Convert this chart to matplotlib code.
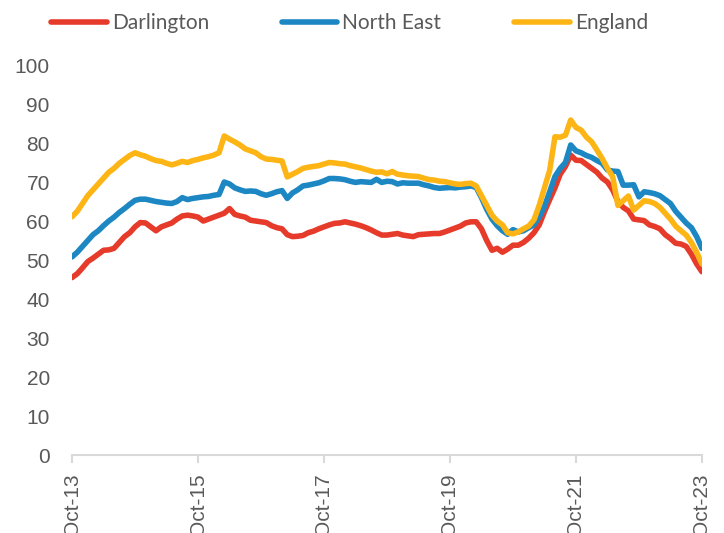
import matplotlib.pyplot as plt
import numpy as np

# monthly values, Oct-13 .. Oct-23 (121 months)
darlington = [
    45.5, 46.5, 48.0, 49.6, 50.5, 51.5, 52.5, 52.6, 53.0, 54.5, 56.0, 57.0,
    58.5, 59.6, 59.5, 58.5, 57.5, 58.5, 59.0, 59.5, 60.5, 61.3, 61.5, 61.3,
    61.0, 60.0, 60.5, 61.0, 61.5, 62.0, 63.2, 61.7, 61.3, 61.0, 60.2, 60.0,
    59.8, 59.6, 58.8, 58.3, 58.0, 56.5, 56.0, 56.1, 56.3, 57.0, 57.4, 58.0,
    58.5, 59.0, 59.4, 59.5, 59.8, 59.5, 59.2, 58.8, 58.3, 57.7, 57.0, 56.4,
    56.4, 56.6, 56.8, 56.4, 56.2, 56.0, 56.5, 56.6, 56.7, 56.8, 56.8, 57.2,
    57.7, 58.2, 58.7, 59.5, 59.8, 59.8, 58.0, 55.0, 52.5, 53.0, 52.0, 52.8,
    53.8, 53.8, 54.5, 55.6, 57.0, 59.0, 62.4, 65.5, 68.5, 72.0, 74.0, 76.9,
    75.6, 75.5, 74.5, 73.5, 72.5, 71.0, 70.0, 68.0, 65.0, 63.5, 62.6, 60.5,
    60.3, 60.1, 59.0, 58.6, 58.0, 56.5, 55.5, 54.3, 54.1, 53.5, 51.5, 49.0,
    47.0,
]
north_east = [
    50.8, 52.0, 53.5, 55.0, 56.5, 57.5, 58.8, 60.0, 61.0, 62.2, 63.2, 64.3,
    65.3, 65.6, 65.6, 65.3, 65.0, 64.8, 64.6, 64.5, 65.0, 66.0, 65.5, 65.8,
    66.0, 66.2, 66.3, 66.6, 66.8, 70.0, 69.5, 68.5, 68.0, 67.6, 67.7, 67.6,
    67.0, 66.6, 67.0, 67.5, 67.8, 65.8, 67.2, 68.0, 69.0, 69.2, 69.5, 69.8,
    70.3, 70.9, 70.9, 70.8, 70.6, 70.2, 69.9, 70.1, 70.0, 69.9, 70.7, 69.9,
    70.2, 70.1, 69.5, 69.8, 69.7, 69.7, 69.7, 69.3, 69.0, 68.6, 68.4, 68.5,
    68.6, 68.5, 68.7, 68.8, 69.0, 68.6, 66.0, 63.0, 60.5, 58.8, 57.5, 56.6,
    57.8, 57.2, 57.5, 58.3, 59.0, 61.0, 63.7, 67.5, 71.4, 73.5, 75.0, 79.5,
    78.0, 77.5, 76.8, 76.3, 75.5, 74.8, 73.1, 72.8, 72.7, 69.2, 69.2, 69.3,
    66.2, 67.5, 67.3, 67.0, 66.5, 65.5, 64.5, 62.5, 61.0, 59.5, 58.3, 56.0,
    53.0,
]
england = [
    61.1, 62.5, 64.5, 66.5, 68.0, 69.5, 71.0, 72.5, 73.5, 74.8, 75.8, 76.8,
    77.5, 77.0, 76.6, 76.0, 75.5, 75.3, 74.8, 74.4, 74.8, 75.3, 75.0, 75.5,
    75.8, 76.2, 76.5, 76.9, 77.5, 81.8, 81.0, 80.3, 79.5, 78.5, 78.0, 77.5,
    76.5, 75.9, 75.8, 75.6, 75.4, 71.3, 72.0, 72.7, 73.5, 73.8, 74.0, 74.2,
    74.6, 75.0, 74.9, 74.7, 74.6, 74.2, 73.9, 73.6, 73.2, 72.8, 72.5, 72.6,
    72.1, 72.7, 72.0, 71.8, 71.6, 71.5, 71.4, 71.0, 70.6, 70.5, 70.2, 70.1,
    69.8, 69.5, 69.4, 69.6, 69.7, 69.0, 66.5, 64.0, 61.5, 60.0, 59.0, 57.0,
    56.7, 57.2, 58.0, 58.7, 60.3, 64.0, 68.5, 73.0, 81.6, 81.5, 82.0, 85.9,
    84.0, 83.3, 81.5, 80.3, 78.2, 76.0, 73.5, 71.4, 64.0, 65.2, 66.4, 62.8,
    64.0, 65.2, 65.0, 64.5, 63.5, 62.0, 60.5, 58.7, 57.5, 56.4, 54.5, 52.0,
    49.0,
]
tick_labels = ['Oct-13', 'Oct-15', 'Oct-17', 'Oct-19', 'Oct-21', 'Oct-23']

months = np.arange(len(darlington))

fig = plt.figure(figsize=(7.24, 5.33), dpi=100)
ax = fig.add_axes([0.0995, 0.1463, 0.870, 0.7317])

lw = 4.0
ax.plot(months, darlington, color='#E63B2A', lw=lw, label='Darlington', solid_capstyle='round')
ax.plot(months, north_east, color='#1C87C2', lw=lw, label='North East', solid_capstyle='round')
ax.plot(months, england, color='#FDB515', lw=lw, label='England', solid_capstyle='round')

ax.set_xlim(0, 120)
ax.set_ylim(0, 100)
ax.set_yticks(range(0, 101, 10))
ax.set_xticks(range(0, 121, 24))
ax.set_xticklabels(tick_labels, rotation=90, va='top', ha='center')

for s in ['top', 'right', 'left']:
    ax.spines[s].set_visible(False)
ax.spines['bottom'].set_color('#d9d9d9')
ax.spines['bottom'].set_linewidth(1.5)

ax.tick_params(axis='y', length=0, pad=16, labelsize=15, labelcolor='#595959')
ax.tick_params(axis='x', length=6, width=1.5, color='#d9d9d9', pad=7,
               labelsize=15, labelcolor='#595959')
for lab in ax.get_xticklabels() + ax.get_yticklabels():
    lab.set_family('Liberation Sans')

leg = fig.legend(loc='upper center', bbox_to_anchor=(0.483, 1.01), ncol=3,
                 frameon=False, handlelength=2.65, handletextpad=0.25,
                 columnspacing=3.5, prop={'family': 'Lato', 'size': 15})
for t in leg.get_texts():
    t.set_color('#595959')

fig.savefig('out.png', dpi=100)
